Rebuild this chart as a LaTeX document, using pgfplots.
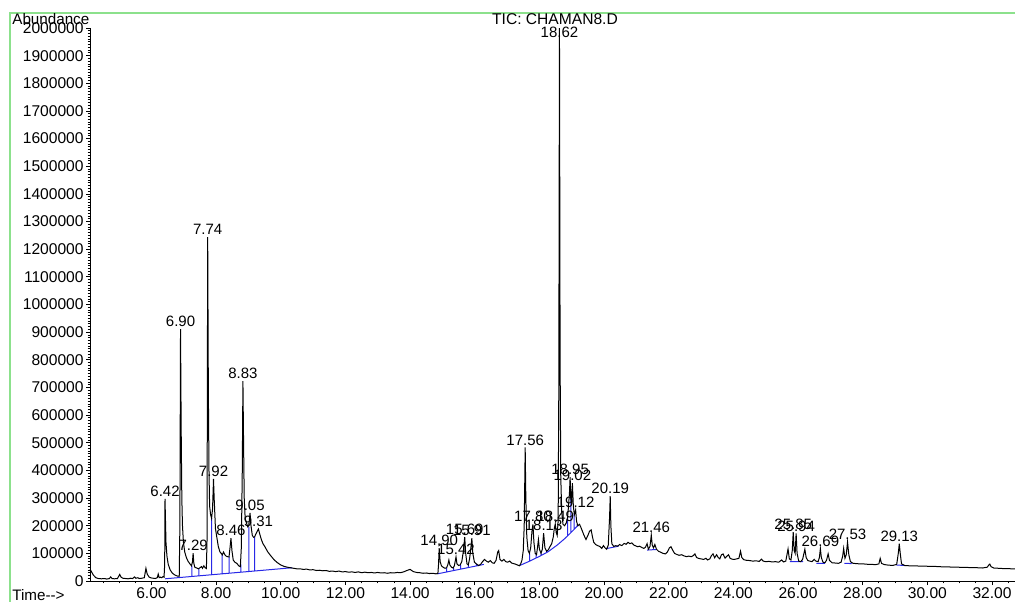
\documentclass[border=0pt]{standalone}
\usepackage{pgfplots}
\pgfplotsset{compat=1.18}
\usepackage{fontspec}
\setmainfont{Liberation Sans}
\definecolor{framegreen}{RGB}{140,225,140}
\definecolor{intblue}{RGB}{40,40,230}
\newcommand{\lblfont}{\fontsize{7.5}{9}\selectfont}
\newcommand{\pk}[3]{\node[font=\lblfont,anchor=base,inner sep=0pt,yshift=1.2pt] at (axis cs:#1,#2) {#3};}
\begin{document}
\begin{tikzpicture}
\useasboundingbox (-45pt,-10pt) rectangle (462.5pt,290.5pt);
\draw[framegreen,line width=1pt] (-40pt,-20pt) -- (-40pt,284pt) -- (470pt,284pt);
\begin{axis}[
  at={(0,0)}, anchor=south west,
  scale only axis, width=462.5pt, height=276.5pt,
  xmin=4.10, xmax=32.71, ymin=0, ymax=2000000,
  axis lines=left, axis line style={-, line width=0.5pt},
  clip=false,
  xtick={6,8,10,12,14,16,18,20,22,24,26,28,30,32},
  minor xtick={4.5,5,5.5,6.5,7,7.5,8.5,9,9.5,10.5,11,11.5,12.5,13,13.5,14.5,15,15.5,16.5,17,17.5,18.5,19,19.5,20.5,21,21.5,22.5,23,23.5,24.5,25,25.5,26.5,27,27.5,28.5,29,29.5,30.5,31,31.5,32.5},
  ytick={0,100000,200000,300000,400000,500000,600000,700000,800000,900000,1000000,1100000,1200000,1300000,1400000,1500000,1600000,1700000,1800000,1900000,2000000},
  minor y tick num=9,
  tick align=outside, major tick length=2pt, minor tick length=1.2pt,
  tick style={black, line width=0.4pt},
  scaled x ticks=false, scaled y ticks=false,
  /pgf/number format/assume math mode=true,
  tick label style={font=\fontsize{7.8}{9}\selectfont},
  xticklabel style={/pgf/number format/fixed, /pgf/number format/fixed zerofill, /pgf/number format/precision=2, inner sep=1pt},
  yticklabel style={/pgf/number format/fixed, /pgf/number format/1000 sep={}, inner sep=1pt},
]
% integration baselines (blue)
\addplot[intblue, line width=0.5pt, unbounded coords=jump] coordinates {
(6.42,8000)(10.35,48000)(10.35,nan)
(7.25,16400)(7.25,55000)(7.25,nan)
(7.47,18700)(7.47,46000)(7.47,nan)
(7.86,22700)(7.86,227000)(7.86,nan)
(8.19,26000)(8.19,94000)(8.19,nan)
(8.40,28200)(8.40,87000)(8.40,nan)
(8.77,31900)(8.77,60000)(8.77,nan)
(9.01,34400)(9.01,196000)(9.01,nan)
(9.19,36200)(9.19,160000)(9.19,nan)
(14.85,26000)(16.28,60000)(16.28,nan)
(15.13,32700)(15.13,48000)(15.13,nan)
(15.35,38000)(15.35,47000)(15.35,nan)
(15.56,43000)(15.56,58000)(15.56,nan)
(15.80,48700)(15.80,58000)(15.80,nan)
(16.05,54500)(16.05,62000)(16.05,nan)
(17.39,56000)(17.70,72000)(18.00,89000)(18.27,106000)(18.55,130000)(18.80,155000)(19.00,178000)(19.20,202000)(19.20,nan)
(17.70,72500)(17.70,100000)(17.70,nan)
(17.90,83300)(17.90,95000)(17.90,nan)
(18.05,91600)(18.05,100000)(18.05,nan)
(18.22,103000)(18.22,108000)(18.22,nan)
(18.87,163000)(18.87,230000)(18.87,nan)
(18.97,175000)(18.97,300000)(18.97,nan)
(19.07,186000)(19.07,245000)(19.07,nan)
(19.17,198000)(19.17,205000)(19.17,nan)
(20.06,117000)(20.45,126000)(20.45,nan)
(21.33,112000)(21.62,114000)(21.62,nan)
(25.75,70000)(26.16,70000)(26.16,nan)
(26.57,64000)(26.83,64000)(26.83,nan)
(27.43,64000)(27.66,63000)(27.66,nan)
(29.04,58000)(29.30,56000)
};
% TIC trace
\addplot[black, line width=0.5pt] coordinates {
(4.10,42000)(4.14,35000)(4.20,22000)(4.28,12000)(4.36,9000)(4.45,8000)(4.55,9000)(4.62,7000)(4.70,9000)(4.74,15000)(4.78,9000)(4.85,8000)(4.95,9000)(5.02,24000)(5.06,14000)(5.12,10000)(5.20,9000)(5.28,8000)(5.36,10000)(5.42,9000)(5.48,15000)(5.52,10000)(5.58,12000)(5.62,9000)(5.70,10000)(5.78,12000)(5.83,46000)(5.87,25000)(5.93,14000)(6.00,11000)(6.06,10000)(6.12,9000)(6.18,12000)(6.21,25000)(6.24,12000)(6.28,14000)(6.32,12000)(6.36,16000)(6.39,14000)
(6.41,60000)(6.42,297000)(6.45,140000)(6.48,90000)(6.52,60000)(6.58,40000)(6.65,28000)(6.72,22000)(6.80,18000)(6.86,17000)
(6.88,200000)(6.90,911000)(6.92,550000)(6.94,300000)(6.96,200000)(6.99,140000)(7.03,105000)(7.08,85000)(7.13,72000)(7.19,62000)(7.24,55000)(7.27,70000)(7.29,101000)(7.31,65000)(7.34,50000)(7.40,47000)(7.45,44000)(7.50,48000)(7.55,52000)(7.58,46000)(7.62,55000)(7.66,48000)(7.70,45000)(7.72,150000)
(7.74,1244000)(7.76,700000)(7.78,400000)(7.80,270000)(7.83,240000)(7.86,227000)(7.89,260000)(7.92,369000)(7.94,300000)(7.98,190000)(8.02,160000)(8.07,124000)(8.12,105000)(8.16,100000)(8.19,94000)(8.23,105000)(8.27,95000)(8.31,90000)(8.35,88000)(8.40,87000)(8.43,120000)(8.46,155000)(8.49,110000)(8.53,76000)(8.58,68000)(8.64,64000)(8.70,55000)(8.75,52000)(8.78,120000)(8.81,400000)
(8.83,723000)(8.85,500000)(8.87,300000)(8.90,225000)(8.94,210000)(8.98,196000)(9.01,200000)(9.05,246000)(9.08,200000)(9.12,165000)(9.16,158000)(9.19,160000)(9.24,172000)(9.28,182000)(9.31,188000)(9.35,170000)(9.40,150000)(9.45,135000)(9.51,124000)(9.60,105000)(9.70,90000)(9.80,76000)(9.90,66000)(10.00,58000)(10.10,53000)(10.20,50000)(10.30,48000)(10.40,46000)(10.50,44000)
(10.6,44000)(10.7,42000)(10.8,43000)(10.9,40000)(11.0,41000)(11.1,38000)(11.2,39000)(11.3,37000)(11.4,38000)(11.5,35000)(11.6,36000)(11.7,34000)(11.8,36000)(11.9,33000)(12.0,34000)(12.1,32000)(12.2,33000)(12.3,31000)(12.4,33000)(12.5,30000)(12.6,32000)(12.7,30000)(12.8,31000)(12.9,29000)(13.0,31000)(13.1,29000)(13.2,30000)(13.3,28000)(13.4,30000)(13.5,29000)(13.6,31000)(13.7,30000)(13.8,33000)(13.9,38000)(14.0,42000)(14.05,38000)(14.1,34000)(14.2,31000)(14.3,30000)(14.4,28000)(14.5,29000)(14.6,27000)(14.7,28000)(14.8,26000)(14.86,27000)
(14.88,60000)(14.90,119000)(14.93,70000)(14.97,55000)(15.02,50000)(15.08,46000)(15.13,48000)(15.17,60000)(15.20,76000)(15.23,58000)(15.28,50000)(15.33,47000)(15.37,55000)(15.42,87000)(15.45,62000)(15.50,56000)(15.55,58000)(15.60,70000)(15.65,110000)(15.69,159000)(15.72,100000)(15.76,62000)(15.80,58000)(15.84,80000)(15.88,120000)(15.91,155000)(15.94,100000)(15.99,68000)(16.05,62000)(16.12,56000)(16.18,60000)(16.24,70000)(16.30,78000)(16.36,72000)(16.42,68000)(16.48,74000)(16.54,66000)(16.60,64000)(16.66,75000)(16.71,105000)(16.74,110000)(16.78,78000)(16.84,72000)(16.90,78000)(16.96,70000)(17.02,68000)(17.08,72000)(17.14,65000)(17.20,63000)(17.26,61000)(17.32,58000)(17.38,55000)
(17.42,62000)(17.46,75000)(17.50,110000)(17.53,200000)(17.56,483000)(17.58,300000)(17.61,160000)(17.65,110000)(17.69,100000)(17.73,120000)(17.77,180000)(17.80,205000)(17.83,140000)(17.87,100000)(17.91,95000)(17.94,120000)(17.97,150000)(18.00,115000)(18.05,100000)(18.09,115000)(18.13,173000)(18.17,120000)(18.22,108000)(18.27,112000)(18.33,125000)(18.38,135000)(18.43,160000)(18.46,190000)(18.49,206000)(18.52,175000)(18.55,165000)(18.58,220000)(18.60,700000)(18.62,2000000)(18.64,800000)(18.66,380000)(18.69,250000)(18.73,205000)(18.78,200000)(18.83,210000)(18.87,230000)(18.90,270000)(18.93,320000)(18.95,376000)(18.97,300000)(18.99,280000)(19.02,354000)(19.05,270000)(19.08,240000)(19.10,248000)(19.12,257000)(19.15,215000)(19.19,200000)(19.24,205000)(19.28,195000)(19.33,180000)(19.38,165000)(19.44,150000)(19.50,165000)(19.55,180000)(19.60,185000)(19.64,160000)(19.68,140000)(19.74,132000)(19.80,128000)(19.87,125000)(19.93,118000)(19.98,128000)(20.03,120000)(20.08,115000)(20.13,130000)(20.17,230000)(20.19,307000)(20.21,200000)(20.24,135000)(20.30,125000)(20.36,128000)(20.42,126000)(20.48,132000)(20.55,128000)(20.62,136000)(20.68,133000)(20.74,140000)(20.80,135000)(20.86,138000)(20.92,130000)(20.98,127000)(21.04,124000)(21.10,126000)(21.17,121000)(21.23,118000)(21.28,122000)(21.33,135000)(21.37,115000)(21.42,125000)(21.46,166000)(21.49,130000)(21.53,120000)(21.57,132000)(21.62,115000)(21.68,108000)(21.75,104000)(21.82,100000)(21.90,98000)(21.96,105000)(22.02,120000)(22.07,124000)(22.12,112000)(22.18,100000)(22.25,96000)(22.32,93000)(22.40,95000)(22.47,91000)(22.55,88000)(22.62,90000)(22.70,88000)(22.76,92000)(22.81,98000)(22.86,85000)(22.92,82000)(23.00,80000)(23.08,78000)(23.15,82000)(23.20,76000)(23.27,80000)(23.32,92000)(23.37,98000)(23.42,84000)(23.48,95000)(23.53,85000)(23.58,80000)(23.63,95000)(23.68,98000)(23.74,83000)(23.80,90000)(23.85,95000)(23.90,82000)(23.96,79000)(24.02,78000)(24.10,80000)(24.17,82000)(24.22,108000)(24.26,85000)(24.32,77000)(24.40,75000)(24.50,74000)(24.60,72000)(24.70,73000)(24.80,71000)(24.87,79000)(24.92,72000)(25.00,70000)(25.10,71000)(25.20,69000)(25.30,70000)(25.40,68000)(25.49,76000)(25.55,69000)(25.62,72000)(25.69,116000)(25.73,80000)(25.78,76000)(25.82,110000)(25.85,177000)(25.88,110000)(25.91,100000)(25.94,172000)(25.97,100000)(26.02,72000)(26.08,70000)(26.14,78000)(26.21,115000)(26.25,85000)(26.30,74000)(26.36,72000)(26.43,70000)(26.50,78000)(26.55,72000)(26.62,70000)(26.66,85000)(26.69,117000)(26.72,85000)(26.77,68000)(26.83,66000)(26.88,75000)(26.93,98000)(26.97,75000)(27.05,66000)(27.15,65000)(27.25,64000)(27.33,68000)(27.38,90000)(27.41,118000)(27.45,82000)(27.49,95000)(27.53,141000)(27.57,95000)(27.62,70000)(27.70,64000)(27.80,63000)(27.90,62000)(28.00,62000)(28.10,61000)(28.20,60000)(28.30,60000)(28.40,59000)(28.50,62000)(28.54,82000)(28.58,64000)(28.65,60000)(28.75,58000)(28.85,57000)(28.95,57000)(29.05,60000)(29.10,100000)(29.13,135000)(29.16,100000)(29.20,62000)(29.30,56000)(29.45,55000)(29.60,55000)(29.75,54000)(29.90,54000)(30.05,53000)(30.20,53000)(30.35,52000)(30.50,51000)(30.65,51000)(30.80,50000)(30.95,50000)(31.10,49000)(31.25,49000)(31.40,48000)(31.55,48000)(31.70,47000)(31.85,50000)(31.90,58000)(31.93,61000)(31.97,52000)(32.05,47000)(32.20,46000)(32.35,45000)(32.50,45000)(32.60,44000)(32.71,44000)
};
% peak labels
\pk{6.42}{297000}{6.42}
\pk{6.90}{911000}{6.90}
\pk{7.29}{101000}{7.29}
\pk{7.74}{1244000}{7.74}
\pk{7.92}{369000}{7.92}
\pk{8.46}{155000}{8.46}
\pk{8.83}{723000}{8.83}
\pk{9.05}{246000}{9.05}
\pk{9.31}{188000}{9.31}
\pk{14.90}{119000}{14.90}
\pk{15.42}{87000}{15.42}
\pk{15.69}{159000}{15.69}
\pk{15.91}{155000}{15.91}
\pk{17.56}{483000}{17.56}
\pk{17.80}{205000}{17.80}
\pk{18.13}{173000}{18.13}
\pk{18.49}{206000}{18.49}
\pk{18.95}{376000}{18.95}
\pk{19.02}{354000}{19.02}
\pk{19.12}{257000}{19.12}
\pk{20.19}{307000}{20.19}
\pk{21.46}{166000}{21.46}
\pk{25.85}{177000}{25.85}
\pk{25.94}{172000}{25.94}
\pk{26.69}{117000}{26.69}
\pk{27.53}{141000}{27.53}
\pk{29.13}{135000}{29.13}
\node[font=\lblfont,anchor=base,inner sep=0pt] at (axis cs:18.62,1965000) {18.62};
\end{axis}
\node[font=\fontsize{7.6}{9}\selectfont,anchor=base west,inner sep=0pt] at (-39pt,278pt) {Abundance};
\node[font=\fontsize{7.8}{9}\selectfont,anchor=base,inner sep=0pt] at (232.5pt,278pt) {TIC: CHAMAN8.D};
\node[font=\fontsize{7.6}{9}\selectfont,anchor=base west,inner sep=0pt] at (-39pt,-9.5pt) {Time-{}-{}>};
\end{tikzpicture}
\end{document}
